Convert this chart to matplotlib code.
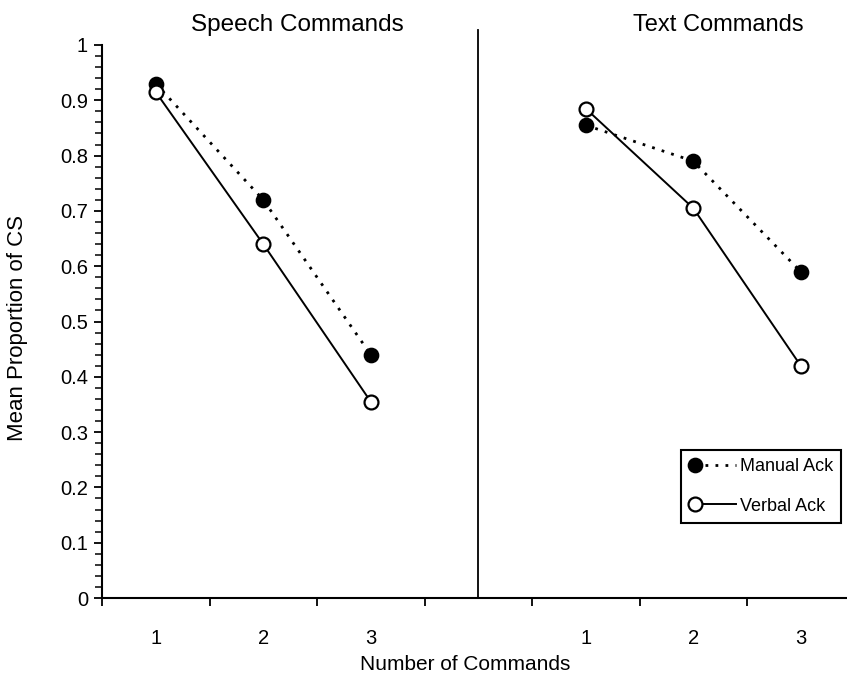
import matplotlib
matplotlib.use("Agg")
import numpy as np
import matplotlib.pyplot as plt
from matplotlib.ticker import MultipleLocator, FixedLocator, NullFormatter
from matplotlib.lines import Line2D
from matplotlib.legend_handler import HandlerLine2DCompound

plt.rcParams['font.family'] = ['Liberation Sans', 'DejaVu Sans']

# Data
x_labels = ["1", "2", "3"]
panels = ["Speech Commands", "Text Commands"]
speech_manual = [0.93, 0.72, 0.44]
speech_verbal = [0.915, 0.64, 0.355]
text_manual = [0.855, 0.79, 0.59]
text_verbal = [0.885, 0.705, 0.42]
series_names = ["Manual Ack", "Verbal Ack"]

W, H = 847, 688
fig = plt.figure(figsize=(W / 100, H / 100), dpi=100)
left_px, right_px, top_px, bot_px = 102, 847, 45, 598
ax = fig.add_axes([left_px / W, 1 - bot_px / H, (right_px - left_px) / W, (bot_px - top_px) / H])

cat_w = 107.5
xmax = (right_px - left_px) / cat_w - 0.5
ax.set_xlim(-0.5, xmax)
ax.set_ylim(0, 1)

left_x = [0, 1, 2]
right_x = [4, 5, 6]

dot_style = dict(color='black', linestyle=(0, (1, 2.6)), linewidth=2.0,
                 marker='o', markersize=10, markerfacecolor='black',
                 markeredgecolor='black', markeredgewidth=1.3)
solid_style = dict(color='black', linestyle='-', linewidth=1.4,
                   marker='o', markersize=10, markerfacecolor='white',
                   markeredgecolor='black', markeredgewidth=1.6)

ax.plot(left_x, speech_manual, **dot_style, zorder=3)
ax.plot(left_x, speech_verbal, **solid_style, zorder=4)
ax.plot(right_x, text_manual, **dot_style, zorder=3)
ax.plot(right_x, text_verbal, **solid_style, zorder=4)

# divider
ax.plot([3, 3], [0, (bot_px - 30) / (bot_px - top_px)], color='black', lw=1.3,
        clip_on=False, zorder=2)

for s in ['top', 'right']:
    ax.spines[s].set_visible(False)
for s in ['left', 'bottom']:
    ax.spines[s].set_linewidth(1.5)

# x ticks: boundaries as major ticks, labels at centers
ax.xaxis.set_major_locator(FixedLocator([i - 0.5 for i in range(8)]))
ax.xaxis.set_major_formatter(NullFormatter())
ax.xaxis.set_minor_locator(FixedLocator(left_x + right_x))
ax.set_xticklabels(x_labels + x_labels, minor=True)
ax.tick_params(axis='x', which='major', direction='out', length=6, width=1.3)
ax.tick_params(axis='x', which='minor', length=0, pad=22, labelsize=14.5)

ax.yaxis.set_minor_locator(MultipleLocator(0.02))
ax.set_yticks([i / 10 for i in range(11)])
ax.set_yticklabels(["0"] + [f"{i/10:.1f}" for i in range(1, 10)] + ["1"])
ax.tick_params(axis='y', which='major', direction='out', length=6, width=1.3, labelsize=14.5, pad=4)
ax.tick_params(axis='y', which='minor', direction='out', length=5, width=1.1)

fig.text(297 / W, 1 - 25 / H, panels[0], ha='center', va='center', fontsize=17.5)
fig.text(718 / W, 1 - 25 / H, panels[1], ha='center', va='center', fontsize=17)
fig.text(465 / W, 1 - 665 / H, "Number of Commands", ha='center', va='center', fontsize=15)
fig.text(18 / W, 1 - 328 / H, "Mean Proportion of CS", ha='center', va='center',
         rotation=90, fontsize=16)


class LeftMarkerHandler(HandlerLine2DCompound):
    def get_xdata(self, legend, xdescent, ydescent, width, height, fontsize):
        xdata = np.array([-xdescent + 0.12 * width, -xdescent + width])
        xdata_marker = np.array([-xdescent + 0.12 * width])
        return xdata, xdata_marker


handles = [Line2D([], [], **dot_style), Line2D([], [], **solid_style)]
leg = ax.legend(handles, series_names, loc='upper left',
                bbox_to_anchor=(681 / W, 1 - 450 / H), bbox_transform=fig.transFigure,
                fontsize=13, frameon=True, fancybox=False, edgecolor='black',
                framealpha=1, handlelength=2.6, handletextpad=0.2,
                borderpad=0.45, labelspacing=1.25, borderaxespad=0,
                handler_map={Line2D: LeftMarkerHandler()})
leg.get_frame().set_linewidth(1.5)

fig.savefig("out.png", dpi=100)
